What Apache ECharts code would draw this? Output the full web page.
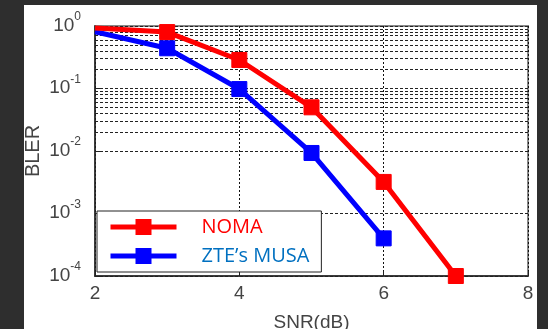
<!DOCTYPE html>
<html><head><meta charset="utf-8">
<script src="https://cdn.jsdelivr.net/npm/echarts@6/dist/echarts.min.js"></script>
<style>html,body{margin:0;padding:0;background:#2e2e2e;}#c{width:548px;height:329px;}</style>
</head><body><div id="c"></div>
<script>
var snr = [2, 3, 4, 5, 6, 7];
var nomaBler = [0.93, 0.8, 0.286, 0.05, 0.0032, 0.0001];
var musaSnr = [2, 3, 4, 5, 6];
var musaBler = [0.81, 0.44, 0.098, 0.0093, 0.0004];
var seriesNames = ['NOMA', 'ZTE\u2019s MUSA'];
var xTicks = [2, 4, 6, 8];
var yDecades = [-4, -3, -2, -1, 0];
var minorMult = [2, 3, 4, 5, 6, 7, 8, 9];

var gridVals = [];
yDecades.slice(0, 4).forEach(function (e) {
  minorMult.forEach(function (m) { gridVals.push(m * Math.pow(10, e)); });
});

function pts(xs, ys) {
  return xs.map(function (x, i) {
    var item = { value: [x, ys[i]] };
    if (i === 0) item.symbol = 'none';
    return item;
  });
}

var chart = echarts.init(document.getElementById('c'));
var labelColor = '#444';
chart.setOption({
  animation: false,
  backgroundColor: '#2e2e2e',
  graphic: [{ type: 'rect', left: 24, top: 5, shape: { width: 513, height: 330 }, style: { fill: '#ffffff' }, z: -10, silent: true }],
  grid: { left: 95, right: 20, top: 26, bottom: 53, outerBoundsMode: 'none', containLabel: false,
    show: true, borderColor: '#888', borderWidth: 2, backgroundColor: 'transparent' },
  xAxis: {
    type: 'value', min: 2, max: 8, interval: 2,
    name: 'SNR(dB)', nameLocation: 'middle', nameGap: 37, nameMoveOverlap: false,
    nameTextStyle: { fontFamily: 'Liberation Sans', fontSize: 19, color: labelColor },
    axisLine: { lineStyle: { color: '#222', width: 1.5 } },
    axisTick: { inside: true, length: 5, lineStyle: { color: '#222' } },
    axisLabel: { fontFamily: 'Liberation Sans', fontSize: 19, color: labelColor, margin: 8,
      formatter: function (v) { return xTicks.indexOf(v) >= 0 ? String(v) : ''; } },
    splitLine: { show: true, lineStyle: { type: [2, 2], color: '#111', width: 1 } }
  },
  yAxis: {
    type: 'log', logBase: 10, min: 1e-4, max: 1,
    name: 'BLER', nameLocation: 'middle', nameGap: 52, nameRotate: 90, nameMoveOverlap: false,
    nameTextStyle: { fontFamily: 'Liberation Sans', fontSize: 20, color: labelColor },
    axisLine: { show: true, lineStyle: { color: '#222', width: 1.5 } },
    axisTick: { inside: true, length: 5, lineStyle: { color: '#222' } },
    axisLabel: {
      margin: 14,
      padding: [0, 0, 6, 0],
      formatter: function (v) {
        var e = Math.round(Math.log10(v));
        return '{b|10}{s|' + e + '}';
      },
      rich: {
        b: { fontFamily: 'Liberation Sans', fontSize: 19, color: labelColor, verticalAlign: 'bottom', lineHeight: 24 },
        s: { fontFamily: 'Liberation Sans', fontSize: 12, color: labelColor, verticalAlign: 'top', lineHeight: 24 }
      }
    },
    splitLine: { show: true, lineStyle: { type: [3, 2], color: '#222', width: 1 } }
  },
  legend: {
    orient: 'vertical', left: 97, top: 211,
    backgroundColor: '#fff', borderColor: '#222', borderWidth: 1,
    padding: [6, 12, 6, 11], itemGap: 9, itemWidth: 66, itemHeight: 20,
    lineStyle: { width: 5 },
    data: [
      { name: seriesNames[0], textStyle: { color: '#ff0000' } },
      { name: seriesNames[1], textStyle: { color: '#0070c0' } }
    ],
    textStyle: { fontFamily: 'Open Sans', fontSize: 20, padding: [0, 0, 0, 20] }
  },
  series: [
    {
      type: 'line', name: '_grid', data: [], z: 1, silent: true,
      markLine: { silent: true, symbol: ['none', 'none'], z: 1, animation: false,
        label: { show: false },
        lineStyle: { type: [3, 2], color: '#222', width: 1 },
        emphasis: { disabled: true },
        data: gridVals.map(function (v) { return { yAxis: v }; }) }
    },
    {
      type: 'line', name: seriesNames[0], z: 4, clip: false,
      data: pts(snr, nomaBler),
      lineStyle: { color: '#ff0000', width: 5 },
      itemStyle: { color: '#ff0000', borderColor: '#ff0000' },
      symbol: 'rect', symbolSize: 15
    },
    {
      type: 'line', name: seriesNames[1], z: 3, clip: false,
      data: pts(musaSnr, musaBler),
      lineStyle: { color: '#0000ff', width: 5 },
      itemStyle: { color: '#0000ff', borderColor: '#0000ff' },
      symbol: 'rect', symbolSize: 15
    }
  ]
});
</script></body></html>
